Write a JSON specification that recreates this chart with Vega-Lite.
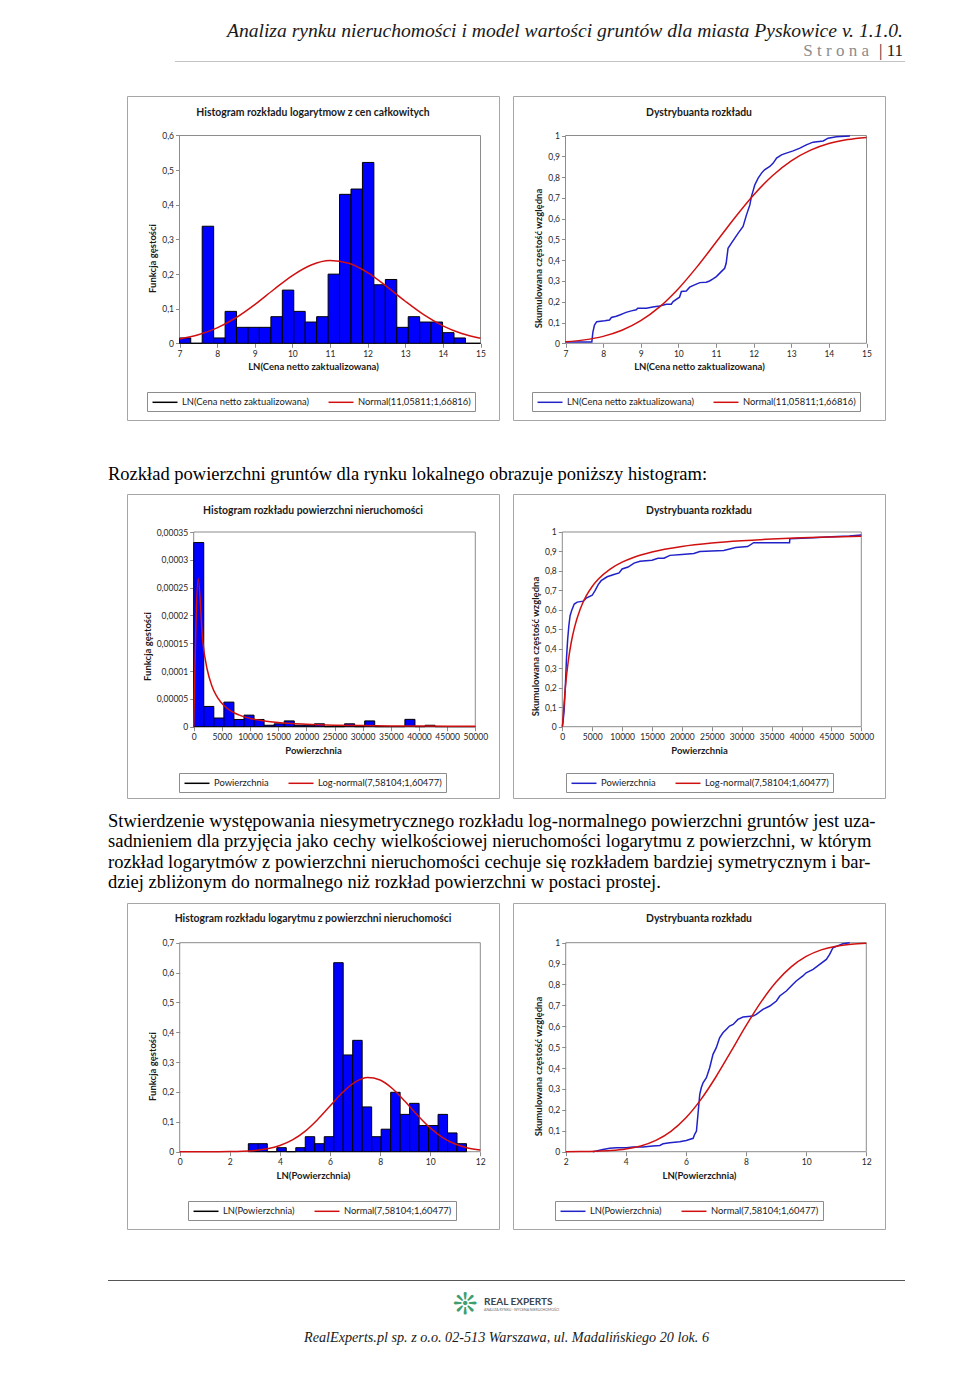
{
  "$schema": "https://vega.github.io/schema/vega-lite/v6.json",
  "background": "white",
  "padding": {"left": 108, "top": 0, "right": 0, "bottom": 0},
  "spacing": 0,
  "resolve": {"scale": {"x": "independent", "y": "independent", "stroke": "independent"}, "axis": {"x": "independent", "y": "independent"}, "legend": {"stroke": "independent"}},
  "vconcat": [
    {
      "width": 797, "height": 61,
      "layer": [
        {
          "data": {"values": [{"line": "a", "t": "Analiza rynku nieruchomości i model wartości gruntów dla miasta Pyskowice v. 1.1.0."}]},
          "mark": {"type": "text", "font": "Liberation Serif", "fontStyle": "italic", "fontSize": 19.6, "align": "right", "baseline": "middle", "color": "#1a1a1a"},
          "encoding": {
            "x": {"datum": 0.9975, "type": "quantitative", "scale": {"domain": [0, 1], "nice": false, "zero": false}, "axis": null},
            "y": {"field": "line", "type": "ordinal", "axis": null, "scale": {"type": "point", "domain": ["a", "b"], "padding": 1.025, "align": 0.75}},
            "text": {"field": "t"}
          }
        },
        {
          "data": {"values": [{"line": "b", "t": "S t r o n a"}]},
          "mark": {"type": "text", "font": "Liberation Serif", "fontSize": 17, "align": "right", "baseline": "middle", "color": "#8c8c8c"},
          "encoding": {
            "x": {"datum": 0.9548, "type": "quantitative"},
            "y": {"field": "line", "type": "ordinal"},
            "text": {"field": "t"}
          }
        },
        {
          "data": {"values": [{"line": "b", "t": "| 11"}]},
          "mark": {"type": "text", "font": "Liberation Serif", "fontSize": 17, "align": "right", "baseline": "middle", "color": "#1a1a1a"},
          "encoding": {
            "x": {"datum": 0.9975, "type": "quantitative"},
            "y": {"field": "line", "type": "ordinal"},
            "text": {"field": "t"}
          }
        }
      ]
    },
    {
      "spacing": 0,
      "resolve": {"scale": {"x": "independent", "y": "independent"}},
      "hconcat": [
        {"width": 67, "height": 1, "data": {"values": [{}]}, "mark": {"type": "rect", "opacity": 0}},
        {"width": 730, "height": 1, "data": {"values": [{}]}, "mark": {"type": "rect", "fill": "#c4c4c4"}}
      ]
    },
    {"width": 1, "height": 33, "data": {"values": [{}]}, "mark": {"type": "rect", "opacity": 0}},
    {
      "spacing": 12,
      "resolve": {"scale": {"x": "independent", "y": "independent", "stroke": "independent"}, "axis": {"x": "independent", "y": "independent"}, "legend": {"stroke": "independent"}},
      "hconcat": [
        {"width": 6, "height": 324, "data": {"values": [{}]}, "mark": {"type": "rect", "opacity": 0}},
        {
          "width": 372, "height": 324,
          "view": {"stroke": "#a6a6a6"},
          "title": {"text": "Histogram rozkładu logarytmow z cen całkowitych", "offset": -22},
          "layer": [
            {
              "data": {"values": [{}]},
              "mark": {"type": "rect", "fillOpacity": 0, "stroke": "#8c8c8c", "strokeWidth": 1},
              "encoding": {"x": {"datum": 7, "type": "quantitative"}, "x2": {"datum": 15}, "y": {"datum": 0, "type": "quantitative"}, "y2": {"datum": 0.6}}
            },
            {
              "data": {"values": [
                {"x": 7.0, "x2": 7.299, "y": 0.0154}, {"x": 7.299, "x2": 7.603, "y": 0}, {"x": 7.603, "x2": 7.908, "y": 0.338},
                {"x": 7.908, "x2": 8.212, "y": 0.0154}, {"x": 8.212, "x2": 8.516, "y": 0.0922}, {"x": 8.516, "x2": 8.82, "y": 0.0461},
                {"x": 8.82, "x2": 9.124, "y": 0.0461}, {"x": 9.124, "x2": 9.429, "y": 0.0461}, {"x": 9.429, "x2": 9.733, "y": 0.0768},
                {"x": 9.733, "x2": 10.037, "y": 0.1536}, {"x": 10.037, "x2": 10.341, "y": 0.0922}, {"x": 10.341, "x2": 10.645, "y": 0.0614},
                {"x": 10.645, "x2": 10.95, "y": 0.0768}, {"x": 10.95, "x2": 11.254, "y": 0.1997}, {"x": 11.254, "x2": 11.558, "y": 0.4301},
                {"x": 11.558, "x2": 11.862, "y": 0.4454}, {"x": 11.862, "x2": 12.166, "y": 0.5222}, {"x": 12.166, "x2": 12.471, "y": 0.169},
                {"x": 12.471, "x2": 12.775, "y": 0.1843}, {"x": 12.775, "x2": 13.079, "y": 0.0461}, {"x": 13.079, "x2": 13.383, "y": 0.0768},
                {"x": 13.383, "x2": 13.687, "y": 0.0614}, {"x": 13.687, "x2": 13.992, "y": 0.0614}, {"x": 13.992, "x2": 14.296, "y": 0.0307},
                {"x": 14.296, "x2": 14.6, "y": 0.0154}, {"x": 14.6, "x2": 15.0, "y": 0}
              ]},
              "mark": {"type": "rect", "fill": "#0000ff", "strokeWidth": 1},
              "encoding": {
                "x": {"field": "x", "type": "quantitative", "title": "LN(Cena netto zaktualizowana)", "scale": {"domain": [5.60465, 15.49169], "nice": false, "zero": false}, "axis": {"values": [7, 8, 9, 10, 11, 12, 13, 14, 15], "tickCount": 30, "offset": -76.7, "labelOverlap": false, "labelExpr": "replace(format(datum.value, '~g'), '.', ',')"}},
                "x2": {"field": "x2"},
                "y": {"field": "y", "type": "quantitative", "title": "Funkcja gęstości", "scale": {"domain": [-0.22147, 0.71405], "nice": false, "zero": false}, "axis": {"values": [0, 0.1, 0.2, 0.3, 0.4, 0.5, 0.6], "tickCount": 30, "offset": -52.5, "labelOverlap": false, "labelExpr": "replace(format(datum.value, '~g'), '.', ',')"}},
                "y2": {"datum": 0},
                "stroke": {"datum": "LN(Cena netto zaktualizowana)", "type": "nominal", "scale": {"domain": ["LN(Cena netto zaktualizowana)", "Normal(11,05811;1,66816)"], "range": ["#000000", "#d01010"]}, "legend": {"title": null, "orient": "none", "legendX": 20, "legendY": 296, "direction": "horizontal", "symbolType": "M-2.5,0L2.5,0"}}
              }
            },
            {
              "data": {"values": [
                {"x": 7, "y": 0.01241}, {"x": 7.5, "y": 0.02459}, {"x": 8, "y": 0.04456}, {"x": 8.5, "y": 0.0738}, {"x": 9, "y": 0.11173},
                {"x": 9.5, "y": 0.15461}, {"x": 10, "y": 0.19558}, {"x": 10.5, "y": 0.22614}, {"x": 11, "y": 0.23901}, {"x": 11.5, "y": 0.23091},
                {"x": 12, "y": 0.20392}, {"x": 12.5, "y": 0.16461}, {"x": 13, "y": 0.12146}, {"x": 13.5, "y": 0.08192}, {"x": 14, "y": 0.05051},
                {"x": 14.5, "y": 0.02847}, {"x": 15, "y": 0.01466}
              ]},
              "mark": {"type": "line", "strokeWidth": 1.5, "interpolate": "monotone"},
              "encoding": {
                "x": {"field": "x", "type": "quantitative", "title": "LN(Cena netto zaktualizowana)"},
                "y": {"field": "y", "type": "quantitative", "title": "Funkcja gęstości"},
                "stroke": {"datum": "Normal(11,05811;1,66816)", "type": "nominal"}
              }
            }
          ]
        },
        {
          "width": 372, "height": 324,
          "view": {"stroke": "#a6a6a6"},
          "title": {"text": "Dystrybuanta rozkładu", "offset": -22},
          "layer": [
            {
              "data": {"values": [{}]},
              "mark": {"type": "rect", "fillOpacity": 0, "stroke": "#8c8c8c", "strokeWidth": 1},
              "encoding": {"x": {"datum": 7, "type": "quantitative"}, "x2": {"datum": 15}, "y": {"datum": 0, "type": "quantitative"}, "y2": {"datum": 1}}
            },
            {
              "data": {"values": [
                {"x": 7.0, "y": 0.006}, {"x": 7.7, "y": 0.006}, {"x": 7.727, "y": 0.053}, {"x": 7.77, "y": 0.088}, {"x": 7.83, "y": 0.104},
                {"x": 8.04, "y": 0.108}, {"x": 8.17, "y": 0.112}, {"x": 8.22, "y": 0.124}, {"x": 8.35, "y": 0.13}, {"x": 8.44, "y": 0.136},
                {"x": 8.53, "y": 0.143}, {"x": 8.61, "y": 0.149}, {"x": 8.75, "y": 0.156}, {"x": 8.88, "y": 0.161}, {"x": 8.92, "y": 0.169},
                {"x": 9.15, "y": 0.169}, {"x": 9.32, "y": 0.175}, {"x": 9.5, "y": 0.18}, {"x": 9.68, "y": 0.188}, {"x": 9.81, "y": 0.188},
                {"x": 9.86, "y": 0.201}, {"x": 10.03, "y": 0.222}, {"x": 10.08, "y": 0.249}, {"x": 10.21, "y": 0.252}, {"x": 10.3, "y": 0.27},
                {"x": 10.43, "y": 0.281}, {"x": 10.57, "y": 0.292}, {"x": 10.74, "y": 0.294}, {"x": 10.83, "y": 0.3}, {"x": 10.92, "y": 0.31},
                {"x": 11.01, "y": 0.321}, {"x": 11.14, "y": 0.345}, {"x": 11.23, "y": 0.361}, {"x": 11.27, "y": 0.385}, {"x": 11.32, "y": 0.457},
                {"x": 11.41, "y": 0.482}, {"x": 11.5, "y": 0.506}, {"x": 11.59, "y": 0.53}, {"x": 11.72, "y": 0.562}, {"x": 11.81, "y": 0.618},
                {"x": 11.9, "y": 0.666}, {"x": 11.94, "y": 0.706}, {"x": 11.98, "y": 0.73}, {"x": 12.03, "y": 0.762}, {"x": 12.12, "y": 0.795},
                {"x": 12.21, "y": 0.819}, {"x": 12.29, "y": 0.835}, {"x": 12.43, "y": 0.851}, {"x": 12.52, "y": 0.867}, {"x": 12.61, "y": 0.891},
                {"x": 12.74, "y": 0.907}, {"x": 12.87, "y": 0.915}, {"x": 13.05, "y": 0.926}, {"x": 13.23, "y": 0.939}, {"x": 13.4, "y": 0.955},
                {"x": 13.58, "y": 0.968}, {"x": 13.85, "y": 0.974}, {"x": 13.98, "y": 0.987}, {"x": 14.2, "y": 0.994}, {"x": 14.56, "y": 0.997}
              ]},
              "mark": {"type": "line", "strokeWidth": 1.5},
              "encoding": {
                "x": {"field": "x", "type": "quantitative", "title": "LN(Cena netto zaktualizowana)", "scale": {"domain": [5.60465, 15.49169], "nice": false, "zero": false}, "axis": {"values": [7, 8, 9, 10, 11, 12, 13, 14, 15], "tickCount": 30, "offset": -76.7, "labelOverlap": false, "labelExpr": "replace(format(datum.value, '~g'), '.', ',')"}},
                "y": {"field": "y", "type": "quantitative", "title": "Skumulowana częstość względna", "scale": {"domain": [-0.3691, 1.19009], "nice": false, "zero": false}, "axis": {"values": [0, 0.1, 0.2, 0.3, 0.4, 0.5, 0.6, 0.7, 0.8, 0.9, 1], "tickCount": 30, "offset": -52.5, "labelOverlap": false, "labelExpr": "replace(format(datum.value, '~g'), '.', ',')"}},
                "stroke": {"datum": "LN(Cena netto zaktualizowana)", "type": "nominal", "scale": {"domain": ["LN(Cena netto zaktualizowana)", "Normal(11,05811;1,66816)"], "range": ["#2121c8", "#d01010"]}, "legend": {"title": null, "orient": "none", "legendX": 19, "legendY": 296, "direction": "horizontal", "symbolType": "M-2.5,0L2.5,0"}}
              }
            },
            {
              "data": {"values": [
                {"x": 7, "y": 0.00749}, {"x": 7.5, "y": 0.01646}, {"x": 8, "y": 0.03339}, {"x": 8.5, "y": 0.06258}, {"x": 9, "y": 0.10864},
                {"x": 9.5, "y": 0.17515}, {"x": 10, "y": 0.26294}, {"x": 10.5, "y": 0.36898}, {"x": 11, "y": 0.48611}, {"x": 11.5, "y": 0.60446},
                {"x": 12, "y": 0.71384}, {"x": 12.5, "y": 0.8063}, {"x": 13, "y": 0.87781}, {"x": 13.5, "y": 0.92838}, {"x": 14, "y": 0.9611},
                {"x": 14.5, "y": 0.98046}, {"x": 15, "y": 0.99094}
              ]},
              "mark": {"type": "line", "strokeWidth": 1.5, "interpolate": "monotone"},
              "encoding": {
                "x": {"field": "x", "type": "quantitative", "title": "LN(Cena netto zaktualizowana)"},
                "y": {"field": "y", "type": "quantitative", "title": "Skumulowana częstość względna"},
                "stroke": {"datum": "Normal(11,05811;1,66816)", "type": "nominal"}
              }
            }
          ]
        }
      ]
    },
    {
      "width": 797, "height": 72,
      "data": {"values": [{"line": 1, "t": "Rozkład powierzchni gruntów dla rynku lokalnego obrazuje poniższy histogram:"}]},
      "mark": {"type": "text", "font": "Liberation Serif", "fontSize": 18.5, "align": "left", "baseline": "middle", "color": "#000000"},
      "encoding": {
        "x": {"datum": 0, "type": "quantitative", "scale": {"domain": [0, 1], "nice": false, "zero": false}, "axis": null},
        "y": {"field": "line", "type": "ordinal", "axis": null, "scale": {"type": "point", "padding": 0.5, "align": 0.736}},
        "text": {"field": "t"}
      }
    },
    {
      "spacing": 12,
      "resolve": {"scale": {"x": "independent", "y": "independent", "stroke": "independent"}, "axis": {"x": "independent", "y": "independent"}, "legend": {"stroke": "independent"}},
      "hconcat": [
        {"width": 6, "height": 304, "data": {"values": [{}]}, "mark": {"type": "rect", "opacity": 0}},
        {
          "width": 372, "height": 304,
          "view": {"stroke": "#a6a6a6"},
          "title": {"text": "Histogram rozkładu powierzchni nieruchomości", "offset": -22},
          "layer": [
            {
              "data": {"values": [{}]},
              "mark": {"type": "rect", "fillOpacity": 0, "stroke": "#8c8c8c", "strokeWidth": 1},
              "encoding": {"x": {"datum": 0, "type": "quantitative"}, "x2": {"datum": 50000}, "y": {"datum": 0, "type": "quantitative"}, "y2": {"datum": 0.00035}}
            },
            {
              "data": {"values": [
                {"x": 0, "x2": 1785.7, "y": 0.000331}, {"x": 1785.7, "x2": 3571.4, "y": 0.0000364}, {"x": 3571.4, "x2": 5357.1, "y": 0.0000156},
                {"x": 5357.1, "x2": 7142.9, "y": 0.0000442}, {"x": 7142.9, "x2": 8928.6, "y": 0.000013}, {"x": 8928.6, "x2": 10714.3, "y": 0.0000208},
                {"x": 10714.3, "x2": 12500, "y": 0.000013}, {"x": 12500, "x2": 14285.7, "y": 0.0000026}, {"x": 14285.7, "x2": 16071.4, "y": 0.0000052},
                {"x": 16071.4, "x2": 17857.1, "y": 0.0000104}, {"x": 17857.1, "x2": 19642.9, "y": 0.0000026}, {"x": 19642.9, "x2": 21428.6, "y": 0.0000026},
                {"x": 21428.6, "x2": 23214.3, "y": 0.0000052}, {"x": 23214.3, "x2": 25000, "y": 0}, {"x": 25000, "x2": 26785.7, "y": 0},
                {"x": 26785.7, "x2": 28571.4, "y": 0.0000052}, {"x": 28571.4, "x2": 30357.1, "y": 0}, {"x": 30357.1, "x2": 32142.9, "y": 0.0000104},
                {"x": 32142.9, "x2": 33928.6, "y": 0}, {"x": 33928.6, "x2": 35714.3, "y": 0}, {"x": 35714.3, "x2": 37500, "y": 0},
                {"x": 37500, "x2": 39285.7, "y": 0.0000132}, {"x": 39285.7, "x2": 41071.4, "y": 0}, {"x": 41071.4, "x2": 42857.1, "y": 0.0000026},
                {"x": 42857.1, "x2": 44642.9, "y": 0}, {"x": 44642.9, "x2": 46428.6, "y": 0}, {"x": 46428.6, "x2": 48214.3, "y": 0},
                {"x": 48214.3, "x2": 50000, "y": 0}
              ]},
              "mark": {"type": "rect", "fill": "#0000ff", "strokeWidth": 1},
              "encoding": {
                "x": {"field": "x", "type": "quantitative", "title": "Powierzchnia", "scale": {"domain": [-11843, 54208], "nice": false, "zero": false}, "axis": {"values": [0, 5000, 10000, 15000, 20000, 25000, 30000, 35000, 40000, 45000, 50000], "tickCount": 30, "offset": -71.3, "labelOverlap": false, "labelExpr": "replace(format(datum.value, '~g'), '.', ',')"}},
                "x2": {"field": "x2"},
                "y": {"field": "y", "type": "quantitative", "title": "Funkcja gęstości", "scale": {"domain": [-0.00012817, 0.00041831], "nice": false, "zero": false}, "axis": {"values": [0, 0.00005, 0.0001, 0.00015, 0.0002, 0.00025, 0.0003, 0.00035], "tickCount": 30, "offset": -66.7, "labelOverlap": false, "labelExpr": "replace(format(datum.value, '~g'), '.', ',')"}},
                "y2": {"datum": 0},
                "stroke": {"datum": "Powierzchnia", "type": "nominal", "scale": {"domain": ["Powierzchnia", "Log-normal(7,58104;1,60477)"], "range": ["#000000", "#d01010"]}, "legend": {"title": null, "orient": "none", "legendX": 52, "legendY": 279, "direction": "horizontal", "symbolType": "M-2.5,0L2.5,0"}}
              }
            },
            {
              "data": {"values": [
                {"x": 0, "y": 0}, {"x": 800, "y": 0.0002659}, {"x": 1600, "y": 0.0001541}, {"x": 2400, "y": 0.0001028}, {"x": 3200, "y": 0.0000742},
                {"x": 4000, "y": 0.0000563}, {"x": 4800, "y": 0.0000443}, {"x": 6000, "y": 0.0000325}, {"x": 8000, "y": 0.0000212}, {"x": 10000, "y": 0.0000149},
                {"x": 12000, "y": 0.000011}, {"x": 15000, "y": 0.0000074}, {"x": 20000, "y": 0.0000044}, {"x": 25000, "y": 0.0000028}, {"x": 30000, "y": 0.000002},
                {"x": 35000, "y": 0.0000014}, {"x": 40000, "y": 0.0000011}, {"x": 45000, "y": 0.0000008}, {"x": 50000, "y": 0.0000006}
              ]},
              "mark": {"type": "line", "strokeWidth": 1.5, "interpolate": "monotone"},
              "encoding": {
                "x": {"field": "x", "type": "quantitative", "title": "Powierzchnia"},
                "y": {"field": "y", "type": "quantitative", "title": "Funkcja gęstości"},
                "stroke": {"datum": "Log-normal(7,58104;1,60477)", "type": "nominal"}
              }
            }
          ]
        },
        {
          "width": 372, "height": 304,
          "view": {"stroke": "#a6a6a6"},
          "title": {"text": "Dystrybuanta rozkładu", "offset": -22},
          "layer": [
            {
              "data": {"values": [{}]},
              "mark": {"type": "rect", "fillOpacity": 0, "stroke": "#8c8c8c", "strokeWidth": 1},
              "encoding": {"x": {"datum": 0, "type": "quantitative"}, "x2": {"datum": 50000}, "y": {"datum": 0, "type": "quantitative"}, "y2": {"datum": 1}}
            },
            {
              "data": {"values": [
                {"x": 0, "y": 0}, {"x": 100, "y": 0.02}, {"x": 300, "y": 0.08}, {"x": 500, "y": 0.2}, {"x": 700, "y": 0.35}, {"x": 900, "y": 0.45},
                {"x": 1100, "y": 0.52}, {"x": 1300, "y": 0.57}, {"x": 1600, "y": 0.6}, {"x": 2000, "y": 0.63}, {"x": 2500, "y": 0.64}, {"x": 3500, "y": 0.645},
                {"x": 4000, "y": 0.66}, {"x": 5000, "y": 0.675}, {"x": 5500, "y": 0.7}, {"x": 6000, "y": 0.73}, {"x": 6500, "y": 0.75}, {"x": 7500, "y": 0.77},
                {"x": 8500, "y": 0.78}, {"x": 9500, "y": 0.79}, {"x": 10000, "y": 0.81}, {"x": 11000, "y": 0.82}, {"x": 12000, "y": 0.84}, {"x": 13000, "y": 0.85},
                {"x": 15000, "y": 0.855}, {"x": 16000, "y": 0.865}, {"x": 17000, "y": 0.865}, {"x": 18000, "y": 0.88}, {"x": 20000, "y": 0.885}, {"x": 22000, "y": 0.89},
                {"x": 23000, "y": 0.9}, {"x": 27000, "y": 0.905}, {"x": 29000, "y": 0.92}, {"x": 31000, "y": 0.925}, {"x": 32000, "y": 0.945}, {"x": 38000, "y": 0.945},
                {"x": 38050, "y": 0.965}, {"x": 42000, "y": 0.97}, {"x": 45000, "y": 0.975}, {"x": 48000, "y": 0.98}, {"x": 50000, "y": 0.985}
              ]},
              "mark": {"type": "line", "strokeWidth": 1.5},
              "encoding": {
                "x": {"field": "x", "type": "quantitative", "title": "Powierzchnia", "scale": {"domain": [-8244, 53963], "nice": false, "zero": false}, "axis": {"values": [0, 5000, 10000, 15000, 20000, 25000, 30000, 35000, 40000, 45000, 50000], "tickCount": 30, "offset": -71.3, "labelOverlap": false, "labelExpr": "replace(format(datum.value, '~g'), '.', ',')"}},
                "y": {"field": "y", "type": "quantitative", "title": "Skumulowana częstość względna", "scale": {"domain": [-0.3662, 1.19517], "nice": false, "zero": false}, "axis": {"values": [0, 0.1, 0.2, 0.3, 0.4, 0.5, 0.6, 0.7, 0.8, 0.9, 1], "tickCount": 30, "offset": -49.3, "labelOverlap": false, "labelExpr": "replace(format(datum.value, '~g'), '.', ',')"}},
                "stroke": {"datum": "Powierzchnia", "type": "nominal", "scale": {"domain": ["Powierzchnia", "Log-normal(7,58104;1,60477)"], "range": ["#2121c8", "#d01010"]}, "legend": {"title": null, "orient": "none", "legendX": 53, "legendY": 279, "direction": "horizontal", "symbolType": "M-2.5,0L2.5,0"}}
              }
            },
            {
              "data": {"values": [
                {"x": 0, "y": 0}, {"x": 50, "y": 0.0111}, {"x": 100, "y": 0.0318}, {"x": 200, "y": 0.0774}, {"x": 500, "y": 0.1973}, {"x": 1000, "y": 0.3374},
                {"x": 1500, "y": 0.4337}, {"x": 2000, "y": 0.5049}, {"x": 3000, "y": 0.6045}, {"x": 4000, "y": 0.6716}, {"x": 5000, "y": 0.7202}, {"x": 6000, "y": 0.7571},
                {"x": 8000, "y": 0.8096}, {"x": 10000, "y": 0.845}, {"x": 12000, "y": 0.8706}, {"x": 15000, "y": 0.8976}, {"x": 20000, "y": 0.9261}, {"x": 25000, "y": 0.9437},
                {"x": 30000, "y": 0.9554}, {"x": 35000, "y": 0.9638}, {"x": 40000, "y": 0.9699}, {"x": 45000, "y": 0.9746}, {"x": 50000, "y": 0.9782}
              ]},
              "mark": {"type": "line", "strokeWidth": 1.5, "interpolate": "monotone"},
              "encoding": {
                "x": {"field": "x", "type": "quantitative", "title": "Powierzchnia"},
                "y": {"field": "y", "type": "quantitative", "title": "Skumulowana częstość względna"},
                "stroke": {"datum": "Log-normal(7,58104;1,60477)", "type": "nominal"}
              }
            }
          ]
        }
      ]
    },
    {
      "width": 797, "height": 103,
      "data": {"values": [
        {"line": 1, "t": "Stwierdzenie występowania niesymetrycznego rozkładu log-normalnego powierzchni gruntów jest uza-"},
        {"line": 2, "t": "sadnieniem dla przyjęcia jako cechy wielkościowej nieruchomości logarytmu z powierzchni, w którym"},
        {"line": 3, "t": "rozkład logarytmów z powierzchni nieruchomości cechuje się rozkładem bardziej symetrycznym i bar-"},
        {"line": 4, "t": "dziej zbliżonym do normalnego niż rozkład powierzchni w postaci prostej."}
      ]},
      "mark": {"type": "text", "font": "Liberation Serif", "fontSize": 18.5, "align": "left", "baseline": "middle", "color": "#000000"},
      "encoding": {
        "x": {"datum": 0, "type": "quantitative", "scale": {"domain": [0, 1], "nice": false, "zero": false}, "axis": null},
        "y": {"field": "line", "type": "ordinal", "axis": null, "scale": {"type": "point", "padding": 1.033, "align": 0.524}},
        "text": {"field": "t"}
      }
    },
    {
      "spacing": 12,
      "resolve": {"scale": {"x": "independent", "y": "independent", "stroke": "independent"}, "axis": {"x": "independent", "y": "independent"}, "legend": {"stroke": "independent"}},
      "hconcat": [
        {"width": 6, "height": 326, "data": {"values": [{}]}, "mark": {"type": "rect", "opacity": 0}},
        {
          "width": 372, "height": 326,
          "view": {"stroke": "#a6a6a6"},
          "title": {"text": "Histogram rozkładu logarytmu z powierzchni nieruchomości", "offset": -21},
          "layer": [
            {
              "data": {"values": [{}]},
              "mark": {"type": "rect", "fillOpacity": 0, "stroke": "#8c8c8c", "strokeWidth": 1},
              "encoding": {"x": {"datum": 0, "type": "quantitative"}, "x2": {"datum": 12}, "y": {"datum": 0, "type": "quantitative"}, "y2": {"datum": 0.7}}
            },
            {
              "data": {"values": [
                {"x": 2.74, "x2": 3.119, "y": 0.0268}, {"x": 3.119, "x2": 3.497, "y": 0.0268}, {"x": 3.497, "x2": 3.876, "y": 0},
                {"x": 3.876, "x2": 4.255, "y": 0.0134}, {"x": 4.255, "x2": 4.634, "y": 0}, {"x": 4.634, "x2": 5.012, "y": 0.0134},
                {"x": 5.012, "x2": 5.391, "y": 0.0502}, {"x": 5.391, "x2": 5.77, "y": 0.0268}, {"x": 5.77, "x2": 6.148, "y": 0.0502},
                {"x": 6.148, "x2": 6.527, "y": 0.633}, {"x": 6.527, "x2": 6.906, "y": 0.324}, {"x": 6.906, "x2": 7.284, "y": 0.373},
                {"x": 7.284, "x2": 7.663, "y": 0.15}, {"x": 7.663, "x2": 8.042, "y": 0.0502}, {"x": 8.042, "x2": 8.421, "y": 0.0754},
                {"x": 8.421, "x2": 8.799, "y": 0.199}, {"x": 8.799, "x2": 9.178, "y": 0.125}, {"x": 9.178, "x2": 9.557, "y": 0.162},
                {"x": 9.557, "x2": 9.935, "y": 0.0875}, {"x": 9.935, "x2": 10.314, "y": 0.0875}, {"x": 10.314, "x2": 10.693, "y": 0.125},
                {"x": 10.693, "x2": 11.071, "y": 0.0628}, {"x": 11.071, "x2": 11.45, "y": 0.0268}
              ]},
              "mark": {"type": "rect", "fill": "#0000ff", "strokeWidth": 1},
              "encoding": {
                "x": {"field": "x", "type": "quantitative", "title": "LN(Powierzchnia)", "scale": {"domain": [-2.1038, 12.7465], "nice": false, "zero": false}, "axis": {"values": [0, 2, 4, 6, 8, 10, 12], "tickCount": 30, "offset": -77.3, "labelOverlap": false, "labelExpr": "replace(format(datum.value, '~g'), '.', ',')"}},
                "x2": {"field": "x2"},
                "y": {"field": "y", "type": "quantitative", "title": "Funkcja gęstości", "scale": {"domain": [-0.2589, 0.83297], "nice": false, "zero": false}, "axis": {"values": [0, 0.1, 0.2, 0.3, 0.4, 0.5, 0.6, 0.7], "tickCount": 30, "offset": -52.7, "labelOverlap": false, "labelExpr": "replace(format(datum.value, '~g'), '.', ',')"}},
                "y2": {"datum": 0},
                "stroke": {"datum": "LN(Powierzchnia)", "type": "nominal", "scale": {"domain": ["LN(Powierzchnia)", "Normal(7,58104;1,60477)"], "range": ["#000000", "#d01010"]}, "legend": {"title": null, "orient": "none", "legendX": 61, "legendY": 298, "direction": "horizontal", "symbolType": "M-2.5,0L2.5,0"}}
              }
            },
            {
              "data": {"values": [
                {"x": 0, "y": 0.0000035}, {"x": 0.5, "y": 0.0000147}, {"x": 1, "y": 0.000055}, {"x": 1.5, "y": 0.000189}, {"x": 2, "y": 0.000588},
                {"x": 2.5, "y": 0.001653}, {"x": 3, "y": 0.004226}, {"x": 3.5, "y": 0.009797}, {"x": 4, "y": 0.020616}, {"x": 4.5, "y": 0.039356},
                {"x": 5, "y": 0.068192}, {"x": 5.5, "y": 0.10723}, {"x": 6, "y": 0.15301}, {"x": 6.5, "y": 0.19813}, {"x": 7, "y": 0.23283},
                {"x": 7.5, "y": 0.24828}, {"x": 8, "y": 0.24027}, {"x": 8.5, "y": 0.21101}, {"x": 9, "y": 0.16816}, {"x": 9.5, "y": 0.12163},
                {"x": 10, "y": 0.07983}, {"x": 10.5, "y": 0.04754}, {"x": 11, "y": 0.0257}, {"x": 11.5, "y": 0.0126}, {"x": 12, "y": 0.00561}
              ]},
              "mark": {"type": "line", "strokeWidth": 1.5, "interpolate": "monotone"},
              "encoding": {
                "x": {"field": "x", "type": "quantitative", "title": "LN(Powierzchnia)"},
                "y": {"field": "y", "type": "quantitative", "title": "Funkcja gęstości"},
                "stroke": {"datum": "Normal(7,58104;1,60477)", "type": "nominal"}
              }
            }
          ]
        },
        {
          "width": 372, "height": 326,
          "view": {"stroke": "#a6a6a6"},
          "title": {"text": "Dystrybuanta rozkładu", "offset": -21},
          "layer": [
            {
              "data": {"values": [{}]},
              "mark": {"type": "rect", "fillOpacity": 0, "stroke": "#8c8c8c", "strokeWidth": 1},
              "encoding": {"x": {"datum": 2, "type": "quantitative"}, "x2": {"datum": 12}, "y": {"datum": 0, "type": "quantitative"}, "y2": {"datum": 1}}
            },
            {
              "data": {"values": [
                {"x": 2.9, "y": 0.0}, {"x": 3.02, "y": 0.003}, {"x": 3.24, "y": 0.011}, {"x": 3.46, "y": 0.016}, {"x": 3.69, "y": 0.019}, {"x": 4.02, "y": 0.019},
                {"x": 4.24, "y": 0.022}, {"x": 4.57, "y": 0.022}, {"x": 4.9, "y": 0.027}, {"x": 5.13, "y": 0.03}, {"x": 5.24, "y": 0.038}, {"x": 5.46, "y": 0.043},
                {"x": 5.79, "y": 0.048}, {"x": 6.01, "y": 0.054}, {"x": 6.24, "y": 0.064}, {"x": 6.29, "y": 0.083}, {"x": 6.35, "y": 0.099}, {"x": 6.4, "y": 0.179},
                {"x": 6.46, "y": 0.274}, {"x": 6.51, "y": 0.306}, {"x": 6.57, "y": 0.33}, {"x": 6.68, "y": 0.354}, {"x": 6.79, "y": 0.402}, {"x": 6.9, "y": 0.466},
                {"x": 7.01, "y": 0.498}, {"x": 7.12, "y": 0.545}, {"x": 7.23, "y": 0.569}, {"x": 7.34, "y": 0.585}, {"x": 7.45, "y": 0.601}, {"x": 7.57, "y": 0.609},
                {"x": 7.73, "y": 0.633}, {"x": 7.9, "y": 0.644}, {"x": 8.23, "y": 0.649}, {"x": 8.34, "y": 0.657}, {"x": 8.56, "y": 0.681}, {"x": 8.79, "y": 0.697},
                {"x": 9.01, "y": 0.721}, {"x": 9.12, "y": 0.745}, {"x": 9.34, "y": 0.769}, {"x": 9.56, "y": 0.801}, {"x": 9.67, "y": 0.817}, {"x": 9.89, "y": 0.841},
                {"x": 10.0, "y": 0.856}, {"x": 10.23, "y": 0.872}, {"x": 10.45, "y": 0.896}, {"x": 10.67, "y": 0.92}, {"x": 10.78, "y": 0.944}, {"x": 10.89, "y": 0.976},
                {"x": 11.22, "y": 0.995}, {"x": 11.45, "y": 1.0}
              ]},
              "mark": {"type": "line", "strokeWidth": 1.5},
              "encoding": {
                "x": {"field": "x", "type": "quantitative", "title": "LN(Powierzchnia)", "scale": {"domain": [0.24684, 12.62209], "nice": false, "zero": false}, "axis": {"values": [2, 4, 6, 8, 10, 12], "tickCount": 30, "offset": -77.3, "labelOverlap": false, "labelExpr": "replace(format(datum.value, '~g'), '.', ',')"}},
                "y": {"field": "y", "type": "quantitative", "title": "Skumulowana częstość względna", "scale": {"domain": [-0.36986, 1.18995], "nice": false, "zero": false}, "axis": {"values": [0, 0.1, 0.2, 0.3, 0.4, 0.5, 0.6, 0.7, 0.8, 0.9, 1], "tickCount": 30, "offset": -52.7, "labelOverlap": false, "labelExpr": "replace(format(datum.value, '~g'), '.', ',')"}},
                "stroke": {"datum": "LN(Powierzchnia)", "type": "nominal", "scale": {"domain": ["LN(Powierzchnia)", "Normal(7,58104;1,60477)"], "range": ["#2121c8", "#d01010"]}, "legend": {"title": null, "orient": "none", "legendX": 42, "legendY": 298, "direction": "horizontal", "symbolType": "M-2.5,0L2.5,0"}}
              }
            },
            {
              "data": {"values": [
                {"x": 2, "y": 0.00025}, {"x": 2.5, "y": 0.00077}, {"x": 3, "y": 0.00215}, {"x": 3.5, "y": 0.00549}, {"x": 4, "y": 0.01283},
                {"x": 4.5, "y": 0.02743}, {"x": 5, "y": 0.05387}, {"x": 5.5, "y": 0.09735}, {"x": 6, "y": 0.16226}, {"x": 6.5, "y": 0.25026},
                {"x": 7, "y": 0.35864}, {"x": 7.5, "y": 0.47986}, {"x": 8, "y": 0.60298}, {"x": 8.5, "y": 0.71656}, {"x": 9, "y": 0.81171},
                {"x": 9.5, "y": 0.88411}, {"x": 10, "y": 0.93413}, {"x": 10.5, "y": 0.96554}, {"x": 11, "y": 0.98344}, {"x": 11.5, "y": 0.9927},
                {"x": 12, "y": 0.99705}
              ]},
              "mark": {"type": "line", "strokeWidth": 1.5, "interpolate": "monotone"},
              "encoding": {
                "x": {"field": "x", "type": "quantitative", "title": "LN(Powierzchnia)"},
                "y": {"field": "y", "type": "quantitative", "title": "Skumulowana częstość względna"},
                "stroke": {"datum": "Normal(7,58104;1,60477)", "type": "nominal"}
              }
            }
          ]
        }
      ]
    },
    {"width": 1, "height": 50, "data": {"values": [{}]}, "mark": {"type": "rect", "opacity": 0}},
    {"width": 797, "height": 1, "data": {"values": [{}]}, "mark": {"type": "rect", "fill": "#555555"}},
    {
      "width": 797, "height": 80,
      "layer": [
        {
          "data": {"values": [{"line": "a", "t": "❊"}]},
          "mark": {"type": "text", "font": "DejaVu Sans", "fontSize": 30, "align": "center", "baseline": "middle", "color": "#3f9e6e"},
          "encoding": {
            "x": {"datum": 0.448, "type": "quantitative", "scale": {"domain": [0, 1], "nice": false, "zero": false}, "axis": null},
            "y": {"field": "line", "type": "ordinal", "axis": null, "scale": {"type": "point", "domain": ["a", "c"], "padding": 0.712, "align": 0.511}},
            "text": {"field": "t"}
          }
        },
        {
          "data": {"values": [{"line": "a", "t": "REAL EXPERTS"}]},
          "mark": {"type": "text", "font": "Lato", "fontWeight": "bold", "fontSize": 10, "align": "left", "baseline": "middle", "dy": -3, "color": "#3a4650"},
          "encoding": {
            "x": {"datum": 0.4718, "type": "quantitative"},
            "y": {"field": "line", "type": "ordinal"},
            "text": {"field": "t"}
          }
        },
        {
          "data": {"values": [{"line": "a", "t": "ANALIZA RYNKU · WYCENA NIERUCHOMOŚCI"}]},
          "mark": {"type": "text", "font": "Lato", "fontSize": 3.5, "align": "left", "baseline": "middle", "dy": 5, "color": "#6b6b6b"},
          "encoding": {
            "x": {"datum": 0.4718, "type": "quantitative"},
            "y": {"field": "line", "type": "ordinal"},
            "text": {"field": "t"}
          }
        },
        {
          "data": {"values": [{"line": "c", "t": "RealExperts.pl sp. z o.o. 02-513 Warszawa, ul. Madalińskiego 20 lok. 6"}]},
          "mark": {"type": "text", "font": "Liberation Serif", "fontStyle": "italic", "fontSize": 14.2, "align": "center", "baseline": "middle", "color": "#1a1a1a"},
          "encoding": {
            "x": {"datum": 0.5, "type": "quantitative"},
            "y": {"field": "line", "type": "ordinal"},
            "text": {"field": "t"}
          }
        }
      ]
    }
  ],
  "config": {
    "view": {"stroke": null},
    "font": "Lato",
    "axis": {
      "domain": false, "grid": false, "ticks": true, "tickColor": "#8c8c8c", "tickSize": 4,
      "labelFont": "Lato", "labelFontSize": 8.5, "labelColor": "#262626", "labelPadding": 2,
      "labelOverlap": false, "labelFlush": false,
      "titleFont": "Lato", "titleFontSize": 9.5, "titleFontWeight": "bold", "titleColor": "#1a1a1a", "titlePadding": 4
    },
    "axisX": {"labelAngle": 0},
    "legend": {
      "labelFont": "Lato", "labelFontSize": 9.4, "labelColor": "#1a1a1a", "labelLimit": 400,
      "strokeColor": "#8c8c8c", "fillColor": "white", "padding": 4,
      "symbolSize": 100, "symbolStrokeWidth": 1.5, "symbolOffset": 8, "labelOffset": 11, "columnPadding": 16
    },
    "title": {"font": "Lato", "fontSize": 10.4, "fontWeight": "bold", "color": "#1a1a1a", "anchor": "middle", "frame": "group"}
  }
}
